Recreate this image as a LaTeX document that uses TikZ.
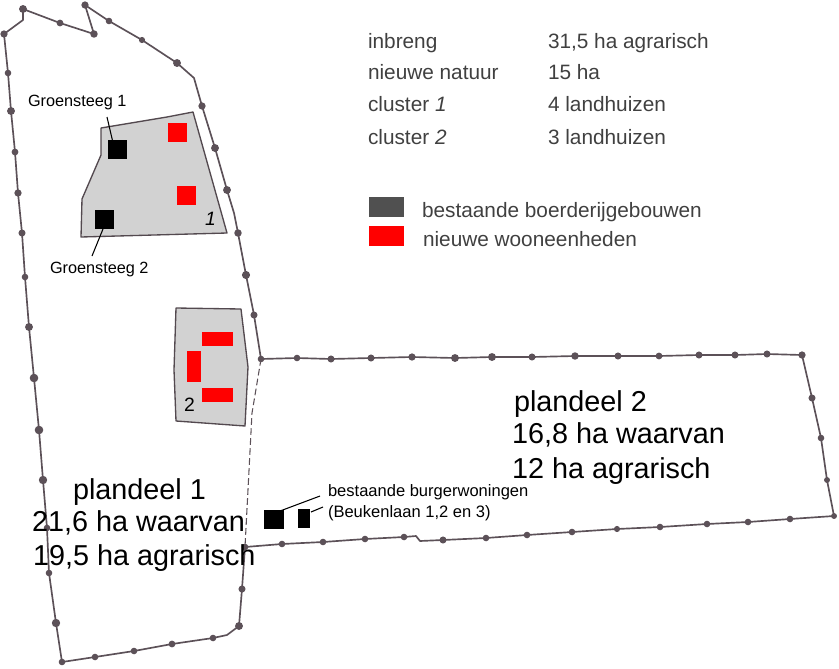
\documentclass[tikz,border=0pt]{standalone}
\usepackage{fontspec}
\setmainfont{Liberation Sans}
\definecolor{border}{HTML}{5C5158}
\definecolor{legendtext}{HTML}{404040}
\definecolor{legendgrey}{HTML}{505050}
\definecolor{clustergrey}{HTML}{D2D2D2}
\definecolor{housered}{HTML}{FF0000}
\tikzset{
  boundary/.style={draw=border, line width=1.25pt, line join=round},
  cluster/.style={draw=border!90!black, fill=clustergrey, line width=1pt, line join=round},
  lbl/.style={anchor=base west, inner sep=0pt, outer sep=0pt},
  streetlbl/.style={lbl, font=\fontsize{12.2}{14}\selectfont, text=black},
  burger/.style={lbl, font=\fontsize{12.4}{14}\selectfont, text=black},
  big/.style={lbl, font=\fontsize{21.6}{25}\selectfont, text=black},
  legend/.style={lbl, font=\fontsize{15.6}{18}\selectfont, text=legendtext},
  leader/.style={draw=black, line width=0.8pt}
}
\begin{document}
\begin{tikzpicture}[x=0.75pt,y=-0.75pt]
\useasboundingbox (0,0) rectangle (839,668);

% outline plandeel 1
\draw[boundary] (4,34) -- (23,20) -- (23,9) -- (60,23) -- (94,34) -- (85,5) -- (109,21) -- (142,40)
  -- (177,63) -- (194,78) -- (202,106) -- (215,148) -- (227,190) -- (234,213) -- (238,233) -- (246,275)
  -- (254,315) -- (261,359);
\draw[boundary] (245,547) -- (242,589) -- (239,626) -- (227,635) -- (213,638) -- (172,644) -- (134,651)
  -- (95,657) -- (62,662) -- (56,623) -- (49,573) -- (47,528) -- (43,480) -- (39,430) -- (34,378)
  -- (29,327) -- (25,277) -- (22,233) -- (18,193) -- (15,152) -- (11,111) -- (8,73) -- (4,34);
% outline plandeel 2
\draw[boundary] (261,359) -- (297,358) -- (331,359) -- (371,358) -- (412,357) -- (455,358) -- (492,357)
  -- (532,357) -- (575,356) -- (618,356) -- (659,356) -- (699,355) -- (735,355) -- (767,354) -- (802,355)
  -- (812,398) -- (821,438) -- (827,480) -- (834,516) -- (790,519) -- (748,522) -- (707,524) -- (660,527)
  -- (617,529) -- (572,532) -- (527,535) -- (486,538) -- (443,540) -- (420,541) -- (416,536) -- (404,537)
  -- (365,539) -- (323,542) -- (282,544) -- (245,547);
\draw[border, line width=0.8pt, dash pattern=on 5pt off 2.5pt] (261,359) -- (252,413) -- (245,547);

\foreach \x/\y/\r in {4/34/3.3, 23/9/3.6, 60/23/3.1, 94/34/3.4, 85/5/3.3, 109/21/3, 142/40/2.8, 177/63/3.6,
  202/106/3.3, 215/148/3.6, 227/190/3.6, 238/233/3.4, 246/275/3.7, 254/315/3.2, 261/359/3,
  245/547/3, 242/589/3.2, 239/626/3.6, 213/638/3, 172/644/3.1, 134/651/3, 95/657/3, 62/662/3, 56/623/3.8,
  49/573/3, 47/528/3, 43/480/3.8, 39/430/3.9, 34/378/3.9, 29/327/3.6, 25/277/3, 22/233/3.2, 18/193/3.3,
  15/152/3.1, 11/111/3.6, 8/73/3, 297/358/3, 331/359/3.2, 371/358/3.2, 412/357/3.3, 455/358/3.6, 492/357/3.6,
  532/357/3.2, 575/356/3.4, 618/356/3.2, 659/356/3.1, 699/355/3.2, 735/355/3.2, 767/354/3.2, 802/355/3.3,
  812/398/3.2, 821/438/3, 827/480/2.7, 834/516/2.7, 790/519/3, 748/522/3, 707/524/3, 660/527/3, 617/529/2.8,
  572/532/3, 527/535/3, 486/538/3, 443/540/3.2, 404/537/3, 365/539/3, 323/542/3, 282/544/3}
  \fill[border] (\x,\y) circle[radius=1.1*\r];

% clusters
\draw[cluster] (101,128) -- (167,117) -- (193,112) -- (227,233) -- (81,237) -- (82,199) -- (101,155) -- cycle;
\draw[cluster] (176,308) -- (241,309) -- (248,367) -- (245,426) -- (176,421) -- (174,370) -- cycle;

\fill[black] (108,140) rectangle (127,159);
\fill[black] (95,210) rectangle (114,229);
\fill[housered] (168,123) rectangle (187,142);
\fill[housered] (177,186) rectangle (196,205);
\fill[housered] (202,332) rectangle (233,346);
\fill[housered] (187,351) rectangle (201,382);
\fill[housered] (202,388) rectangle (233,402);
\fill[black] (264,510) rectangle (284,529);
\fill[black] (298,509) rectangle (310,528);

\coordinate (gs1) at (107,117);
\coordinate (gs1end) at (114,147);
\coordinate (gs2) at (92,256);
\coordinate (gs2end) at (103,229);
\coordinate (bw1) at (320,496);
\coordinate (bw1end) at (280,511);
\coordinate (bw2) at (323,507);
\coordinate (bw2end) at (311,512);
\draw[leader] (gs1) -- (gs1end);
\draw[leader] (gs2) -- (gs2end);
\draw[leader] (bw1) -- (bw1end);
\draw[leader] (bw2) -- (bw2end);

\node[streetlbl] (groen1) at (28,106) {Groensteeg 1};
\node[streetlbl] (groen2) at (50,273) {Groensteeg 2};
\node[lbl, font=\fontsize{14.5}{16}\selectfont\itshape] (num1) at (205,225) {1};
\node[lbl, font=\fontsize{14.5}{16}\selectfont] (num2) at (184,411) {2};
\node[burger] (burg1) at (328,496) {bestaande burgerwoningen};
\node[burger] (burg2) at (328,517) {(Beukenlaan 1,2 en 3)};

\node[big] (pd1a) at (73,499) {plandeel 1};
\node[big] (pd1b) at (32,531) {21,6 ha waarvan};
\node[big] (pd1c) at (33,565) {19,5 ha agrarisch};
\node[big] (pd2a) at (514,411) {plandeel 2};
\node[big] (pd2b) at (512,443) {16,8 ha waarvan};
\node[big] (pd2c) at (512,478) {12 ha agrarisch};

% legend
\node[legend] (inbreng) at (368,48) {inbreng};
\node[legend] (natuur) at (368,79) {nieuwe natuur};
\node[legend] (clust1) at (368,111) {cluster \textit{1}};
\node[legend] (clust2) at (368,144) {cluster \textit{2}};
\node[legend] (inbrengv) at (548,48) {31,5 ha agrarisch};
\node[legend] (natuurv) at (548,79) {15 ha};
\node[legend] (clust1v) at (548,111) {4 landhuizen};
\node[legend] (clust2v) at (548,144) {3 landhuizen};
\fill[legendgrey] (369,197) rectangle (404,217);
\fill[housered] (369,226) rectangle (404,246);
\node[legend] (bestaand) at (422,217) {bestaande boerderijgebouwen};
\node[legend] (nieuw) at (423,246) {nieuwe wooneenheden};
\end{tikzpicture}
\end{document}
